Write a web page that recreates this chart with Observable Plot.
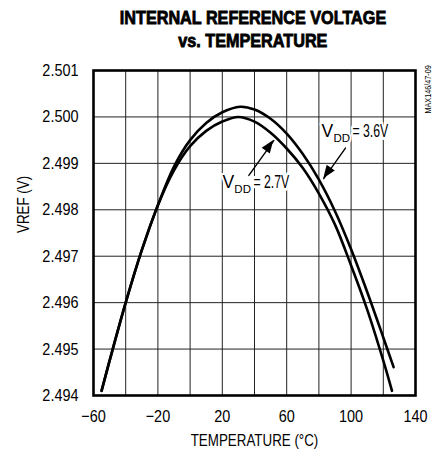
<!DOCTYPE html>
<html><head><meta charset="utf-8">
<script src="https://cdn.jsdelivr.net/npm/d3@7"></script>
<script src="https://cdn.jsdelivr.net/npm/@observablehq/plot@0.6"></script>
<style>
body{margin:0;background:#fff;}
#title{width:438px;height:58px;box-sizing:border-box;padding-top:7px;padding-left:68px;text-align:center;
font-family:"Liberation Sans",Arial,sans-serif;font-weight:bold;font-size:18px;line-height:23px;color:#000;-webkit-text-stroke:0.8px #000;}
#title span{display:inline-block;transform:scaleX(0.9);transform-origin:center;}
#chart svg{display:block;}
</style></head><body>
<div id="title"><span>INTERNAL REFERENCE VOLTAGE</span><br><span>vs. TEMPERATURE</span></div>
<div id="chart"></div>
<script>
// VDD = 3.6V series
const temp36 = [-55, -50, -40, -30, -20, -10, 0, 10, 20, 31, 40, 50, 60, 70, 80, 90, 100, 110, 120, 126.4];
const vref36 = [2.49410, 2.49475, 2.49600, 2.49713, 2.49810, 2.49893, 2.49950, 2.49987, 2.50010, 2.50022, 2.50016, 2.49996, 2.49964, 2.49920, 2.49865, 2.49797, 2.49715, 2.49623, 2.49525, 2.49461];
// VDD = 2.7V series
const temp27 = [-55, -50, -40, -30, -20, -10, 0, 10, 20, 30, 40, 50, 60, 70, 80, 90, 100, 110, 120, 125.4];
const vref27 = [2.49410, 2.49475, 2.49600, 2.49713, 2.49810, 2.49885, 2.49937, 2.49970, 2.49990, 2.50000, 2.49990, 2.49966, 2.49932, 2.49890, 2.49835, 2.49768, 2.49680, 2.49585, 2.49475, 2.49410];

const xTickLabels = [-60, -20, 20, 60, 100, 140];
const xGrid = [-60, -40, -20, 0, 20, 40, 60, 80, 100, 120, 140];
const yTicks = [2.494, 2.495, 2.496, 2.497, 2.498, 2.499, 2.500, 2.501];

// annotation labels "V" + subscript "DD" + rest
const annoMain = ["V", "V"];
const annoSub = ["DD", "DD"];
const annoRest = ["= 3.6V", "= 2.7V"];
const annoT = [102.1, 40.6];
const annoV = [2.49968, 2.49858];
const arrowFromT = [96.5, 36.5];
const arrowFromV = [2.49933, 2.49874];
const arrowToT = [83.0, 52.0];
const arrowToV = [2.49867, 2.49949];

const titleX = "TEMPERATURE (°C)";
const titleY = "VREF (V)";
const partNo = "MAX146/47-09";

const s36 = temp36.map((t, i) => ({t, v: vref36[i]}));
const s27 = temp27.map((t, i) => ({t, v: vref27[i]}));
const labels = annoMain.map((m, i) => ({m, s: annoSub[i], r: annoRest[i], t: annoT[i], v: annoV[i]}));
const arrows = arrowFromT.map((t1, i) => ({t1, v1: arrowFromV[i], t2: arrowToT[i], v2: arrowToV[i]}));

const FONT = '"Liberation Sans",Arial,sans-serif';

const chart = Plot.plot({
  width: 438, height: 395,
  marginLeft: 93, marginRight: 23, marginTop: 12, marginBottom: 58,
  style: {fontFamily: FONT, fontSize: "17px", background: "white", color: "black", overflow: "visible"},
  x: {domain: [-60, 140], ticks: xTickLabels, tickSize: 0, tickPadding: 14, label: null},
  y: {domain: [2.494, 2.501], ticks: yTicks, tickFormat: d3.format(".3f"), tickSize: 0, tickPadding: 15, label: null},
  marks: [
    Plot.ruleX(xGrid, {stroke: "#222", strokeWidth: 1}),
    Plot.ruleY(yTicks, {stroke: "#222", strokeWidth: 1}),
    Plot.frame({stroke: "#000", strokeWidth: 2.6}),
    Plot.line(s36, {x: "t", y: "v", curve: "catmull-rom", stroke: "#000", strokeWidth: 2.6}),
    Plot.line(s27, {x: "t", y: "v", curve: "catmull-rom", stroke: "#000", strokeWidth: 2.6}),
    Plot.arrow(arrows, {x1: "t1", y1: "v1", x2: "t2", y2: "v2", stroke: "#000", strokeWidth: 1.4, headLength: 0}),
    Plot.text(labels, {x: "t", y: "v", text: "s", fontSize: 11.5, dx: -21.1, dy: 6.8, textAnchor: "start", fill: "#000", stroke: "white", strokeWidth: 4}),
    Plot.text(labels, {x: "t", y: "v", text: "m", fontSize: 17.5, dx: -33, textAnchor: "start", fill: "#000", stroke: "white", strokeWidth: 4}),
    Plot.text(labels, {x: "t", y: "v", text: "r", fontSize: 17.5, dx: -2, textAnchor: "start", fill: "#000", stroke: "white", strokeWidth: 6}),
    Plot.text([titleX], {text: d => d, frameAnchor: "bottom", dy: 50, fontSize: 16.5}),
    Plot.text([titleY], {text: d => d, frameAnchor: "left", dx: -70, rotate: -90, fontSize: 16.5}),
    Plot.text([partNo], {text: d => d, frameAnchor: "top-right", dx: 9, dy: 43, rotate: -90, textAnchor: "start", fontSize: 8.5})
  ]
});

// filled arrowheads via plot scales
const sx = chart.scale("x"), sy = chart.scale("y");
const g = d3.select(chart).append("g");
arrows.forEach(a => {
  const x1 = sx.apply(a.t1), y1 = sy.apply(a.v1), x2 = sx.apply(a.t2), y2 = sy.apply(a.v2);
  const ang = Math.atan2(y2 - y1, x2 - x1);
  const L = 13, W = 5;
  const bx = x2 - L * Math.cos(ang), by = y2 - L * Math.sin(ang);
  const px = -Math.sin(ang), py = Math.cos(ang);
  g.append("path").attr("d", `M${x2},${y2}L${bx + W * px},${by + W * py}L${bx - W * px},${by - W * py}Z`).attr("fill", "#000");
});

document.getElementById("chart").appendChild(chart);

// narrow the glyphs (Helvetica Narrow look)
function narrow(el, f) {
  const len = el.getComputedTextLength();
  if (len > 0) {
    el.setAttribute("textLength", (len * f).toFixed(2));
    el.setAttribute("lengthAdjust", "spacingAndGlyphs");
  }
}
d3.select(chart).selectAll("text").each(function () {
  const s = this.textContent;
  if (s === "V" || s === "DD") return;
  let f = 0.85;
  if (s.startsWith("=")) f = 0.7;
  else if (/^[A-Z(]/.test(s) && !s.startsWith("MAX")) f = 0.81;
  narrow(this, f);
});
</script>
</body></html>
